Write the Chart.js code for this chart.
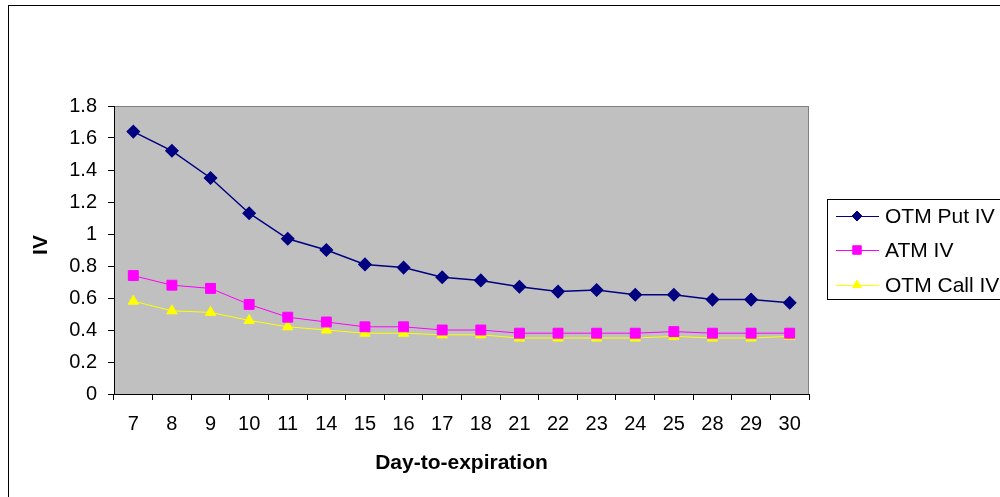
<!DOCTYPE html>
<html>
<head>
<meta charset="utf-8">
<script src="https://cdn.jsdelivr.net/npm/chart.js@4.4.1/dist/chart.umd.min.js"></script>
<style>
  html, body { margin: 0; padding: 0; background: #fff; }
  #wrap { position: relative; width: 1000px; height: 497px; overflow: hidden; }
</style>
</head>
<body>
<div id="wrap"><canvas id="ivChart" width="1000" height="497"></canvas></div>
<script>
// data
const days = ["7", "8", "9", "10", "11", "14", "15", "16", "17", "18", "21", "22", "23", "24", "25", "28", "29", "30"];
const otmPutIV = [1.64, 1.52, 1.35, 1.13, 0.97, 0.90, 0.81, 0.79, 0.73, 0.71, 0.67, 0.64, 0.65, 0.62, 0.62, 0.59, 0.59, 0.57];
const atmIV = [0.74, 0.68, 0.66, 0.56, 0.48, 0.45, 0.42, 0.42, 0.40, 0.40, 0.38, 0.38, 0.38, 0.38, 0.39, 0.38, 0.38, 0.38];
const otmCallIV = [0.58, 0.52, 0.51, 0.46, 0.42, 0.40, 0.38, 0.38, 0.37, 0.37, 0.35, 0.35, 0.35, 0.35, 0.36, 0.35, 0.35, 0.36];
const yTicks = [0, 0.2, 0.4, 0.6, 0.8, 1, 1.2, 1.4, 1.6, 1.8];

const FONT = "Arial, 'Liberation Sans', sans-serif";

// plot background, frame, axis titles and legend box
const excelLook = {
  id: "excelLook",
  beforeDraw(chart) {
    const { ctx, chartArea: a } = chart;
    ctx.save();
    ctx.fillStyle = "#c0c0c0";
    ctx.fillRect(a.left, a.top, a.right - a.left, a.bottom - a.top);
    ctx.strokeStyle = "#808080";
    ctx.lineWidth = 1;
    ctx.strokeRect(a.left + 0.5, a.top + 0.5, a.right - a.left - 1, a.bottom - a.top);
    // outer chart border
    ctx.strokeStyle = "#000";
    ctx.strokeRect(8.5, 5.5, 1100, 1100);
    ctx.restore();
  },
  afterDraw(chart) {
    const { ctx, chartArea: a } = chart;
    ctx.save();
    ctx.fillStyle = "#000";
    ctx.font = "bold 21px " + FONT;
    ctx.textAlign = "center";
    ctx.textBaseline = "middle";
    ctx.fillText("Day-to-expiration", (a.left + a.right) / 2, 463);
    ctx.translate(41, 245);
    ctx.rotate(-Math.PI / 2);
    ctx.fillText("IV", 0, 0);
    ctx.restore();

    // legend
    ctx.save();
    ctx.strokeStyle = "#000";
    ctx.lineWidth = 1;
    ctx.strokeRect(827.5, 199.5, 300, 100);
    ctx.font = "21px " + FONT;
    ctx.textBaseline = "middle";
    ctx.textAlign = "left";
    const rows = [216, 250, 285];
    chart.data.datasets.forEach((ds, i) => {
      const y = rows[i];
      ctx.strokeStyle = ds.borderColor;
      ctx.fillStyle = ds.borderColor;
      ctx.lineWidth = 1;
      ctx.beginPath();
      ctx.moveTo(836, y + 0.5);
      ctx.lineTo(879, y + 0.5);
      ctx.stroke();
      Chart.helpers.drawPoint(ctx, {
        pointStyle: ds.pointStyle,
        radius: ds.pointRadius - 1,
        borderWidth: 1
      }, 857, y);
      ctx.fillStyle = "#000";
      ctx.fillText(ds.label, 885, y + 1);
    });
    ctx.restore();
  }
};

function series(label, values, color, style, radius, width) {
  return {
    label: label,
    data: values,
    borderColor: color,
    backgroundColor: color,
    pointBackgroundColor: color,
    pointBorderColor: color,
    borderWidth: width,
    pointStyle: style,
    pointRadius: radius,
    pointHoverRadius: radius,
    tension: 0
  };
}

new Chart(document.getElementById("ivChart"), {
  type: "line",
  data: {
    labels: days,
    datasets: [
      series("OTM Put IV", otmPutIV, "#000080", "rectRot", 6, 1.5),
      series("ATM IV", atmIV, "#ff00ff", "rect", 7, 1),
      series("OTM Call IV", otmCallIV, "#ffff00", "triangle", 6, 1)
    ]
  },
  options: {
    responsive: false,
    animation: false,
    layout: { padding: { left: 0, top: 106, right: 191, bottom: 0 } },
    plugins: {
      legend: { display: false },
      tooltip: { enabled: false }
    },
    scales: {
      x: {
        offset: true,
        grid: {
          offset: true,
          drawOnChartArea: false,
          drawTicks: true,
          tickLength: 6,
          color: "#000"
        },
        border: { color: "#000", width: 1 },
        ticks: {
          color: "#000",
          font: { family: FONT, size: 20 },
          padding: 12,
          maxRotation: 0,
          autoSkip: false
        },
        afterFit(scale) { scale.height = 103; }
      },
      y: {
        min: 0,
        max: 1.8,
        afterBuildTicks(scale) {
          scale.ticks = yTicks.map(v => ({ value: v }));
        },
        grid: {
          drawOnChartArea: false,
          drawTicks: true,
          tickLength: 6,
          color: "#000"
        },
        border: { color: "#000", width: 1 },
        ticks: {
          color: "#000",
          font: { family: FONT, size: 20 },
          padding: 11,
          callback: v => String(Math.round(v * 10) / 10)
        },
        afterFit(scale) { scale.width = 114; }
      }
    }
  },
  plugins: [excelLook]
});
</script>
</body>
</html>
